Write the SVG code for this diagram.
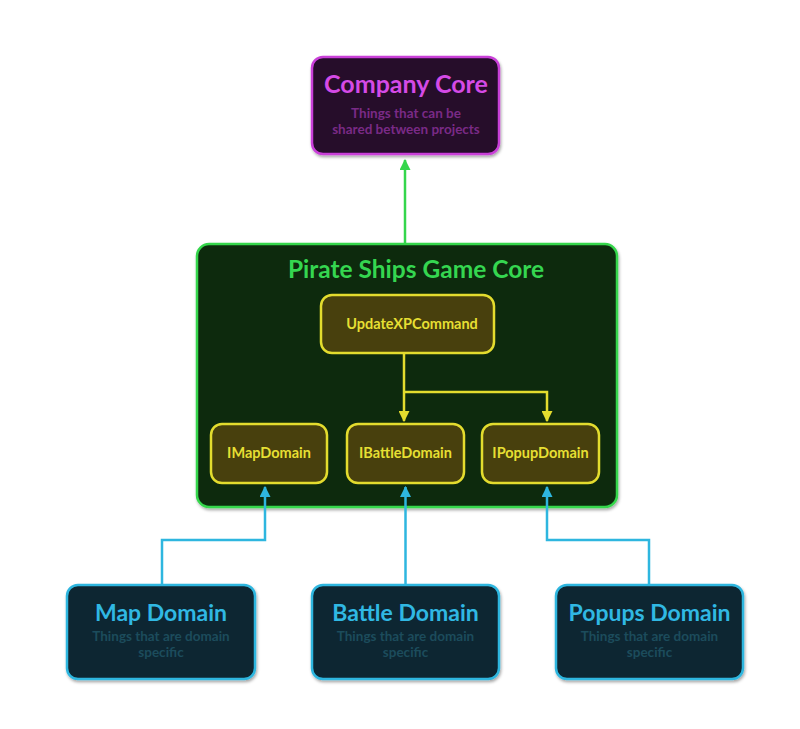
<svg xmlns="http://www.w3.org/2000/svg" width="800" height="729" viewBox="0 0 800 729">
<style>
text{font-family:"Lato","Open Sans","Liberation Sans",sans-serif;font-weight:bold;text-anchor:middle}
.core rect{fill:#250a2c;stroke:#c93fd8;stroke-width:2.5}
.core .t{fill:#d54ae6;font-size:25px}
.core .s{fill:#7a2a86;font-size:13.5px}
.game rect{fill:#0a2c0d;stroke:#34d64c;stroke-width:2.5}
.game .t{fill:#35d650;font-size:24.5px}
.iface rect{fill:#48400d;stroke:#e3dc2e;stroke-width:2.5}
.iface text{fill:#e6df33;font-size:14.5px}
.dom rect{fill:#0b2530;stroke:#2eb6df;stroke-width:2.5}
.dom .t{fill:#30b8e3;font-size:23px}
.dom .s{fill:#1c4c5c;font-size:13.5px}
.g{stroke:#34d64c;stroke-width:2.5;fill:none}
.y{stroke:#e3dc2e;stroke-width:2.5;fill:none}
.b{stroke:#2eb6df;stroke-width:2.5;fill:none}
</style>
<defs>
<filter id="sh" x="-10%" y="-10%" width="120%" height="130%">
<feDropShadow dx="1" dy="2" stdDeviation="1.5" flood-color="#000" flood-opacity="0.35"/>
</filter>
<marker id="ag" viewBox="0 0 10 10" refX="9" refY="5" markerWidth="4.4" markerHeight="4.4" orient="auto"><path d="M0,0L10,5L0,10z" fill="#34d64c"/></marker>
<marker id="ay" viewBox="0 0 10 10" refX="9" refY="5" markerWidth="4.4" markerHeight="4.4" orient="auto"><path d="M0,0L10,5L0,10z" fill="#e3dc2e"/></marker>
<marker id="ab" viewBox="0 0 10 10" refX="9" refY="5" markerWidth="4.4" markerHeight="4.4" orient="auto"><path d="M0,0L10,5L0,10z" fill="#2eb6df"/></marker>
</defs>

<g id="company-core" class="core">
<rect x="312" y="57" width="187" height="97" rx="11" filter="url(#sh)"/>
<text class="t" x="406" y="93">Company Core</text>
<text class="s" x="406" y="118">Things that can be</text>
<text class="s" x="406" y="134">shared between projects</text>
</g>

<g id="pirate-ships-game-core" class="game">
<rect x="197" y="244" width="420" height="263" rx="12" filter="url(#sh)"/>
<text class="t" x="416" y="278">Pirate Ships Game Core</text>
</g>

<g id="update-xp-command" class="iface">
<rect x="321" y="295" width="173" height="58" rx="11"/>
<text x="412" y="329">UpdateXPCommand</text>
</g>
<g id="imap-domain" class="iface">
<rect x="211" y="424" width="116" height="59" rx="11"/>
<text x="269" y="458">IMapDomain</text>
</g>
<g id="ibattle-domain" class="iface">
<rect x="347" y="424" width="117" height="59" rx="11"/>
<text x="405.5" y="458">IBattleDomain</text>
</g>
<g id="ipopup-domain" class="iface">
<rect x="482" y="424" width="117" height="59" rx="11"/>
<text x="540.5" y="458">IPopupDomain</text>
</g>

<g id="map-domain" class="dom">
<rect x="67" y="585" width="188" height="94" rx="11" filter="url(#sh)"/>
<text class="t" x="161" y="621">Map Domain</text>
<text class="s" x="161" y="641">Things that are domain</text>
<text class="s" x="161" y="657">specific</text>
</g>
<g id="battle-domain" class="dom">
<rect x="312" y="585" width="187" height="94" rx="11" filter="url(#sh)"/>
<text class="t" x="405.5" y="621">Battle Domain</text>
<text class="s" x="405.5" y="641">Things that are domain</text>
<text class="s" x="405.5" y="657">specific</text>
</g>
<g id="popups-domain" class="dom">
<rect x="556" y="585" width="187" height="94" rx="11" filter="url(#sh)"/>
<text class="t" x="649.5" y="621">Popups Domain</text>
<text class="s" x="649.5" y="641">Things that are domain</text>
<text class="s" x="649.5" y="657">specific</text>
</g>

<g id="connectors">
<path class="g" d="M405,243 V160" marker-end="url(#ag)"/>
<path class="y" d="M404,353 V421" marker-end="url(#ay)"/>
<path class="y" d="M404,392 H547 V421" marker-end="url(#ay)"/>
<path class="b" d="M162,584 V540 H265 V487" marker-end="url(#ab)"/>
<path class="b" d="M405.5,584 V487" marker-end="url(#ab)"/>
<path class="b" d="M649,584 V540 H547 V487" marker-end="url(#ab)"/>
</g>
</svg>
